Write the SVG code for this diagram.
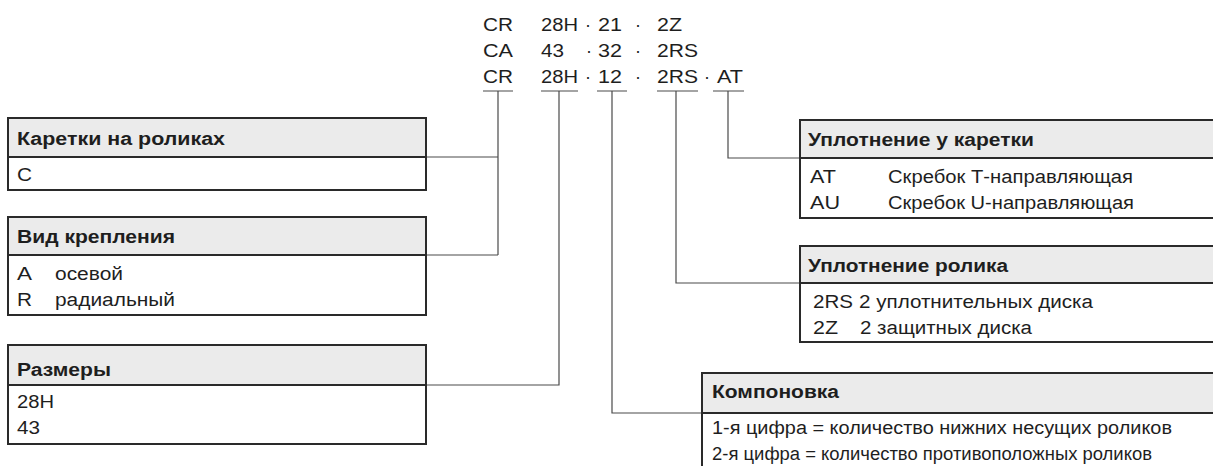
<svg xmlns="http://www.w3.org/2000/svg" width="1213" height="466" viewBox="0 0 1213 466">
<style>
text{font-family:"Liberation Sans",Arial,sans-serif;fill:#1e1e1e}
.code{font-size:18px}
.h{font-size:18px;font-weight:bold}
.b{font-size:18px}
.hd{fill:#ebebeb;stroke:#2a2a2a;stroke-width:2}
.bd{fill:#fff;stroke:#2a2a2a;stroke-width:2}
.c{fill:none;stroke:#4a4a4a;stroke-width:1.2}
</style>
<rect width="1213" height="466" fill="#fff"/>
<g id="code">
<text class="code" x="483" y="31" textLength="30" lengthAdjust="spacingAndGlyphs">CR</text>
<text class="code" x="541" y="31" textLength="37" lengthAdjust="spacingAndGlyphs">28H</text>
<text class="code" x="588" y="31" text-anchor="middle">·</text>
<text class="code" x="598" y="31" textLength="24" lengthAdjust="spacingAndGlyphs">21</text>
<text class="code" x="638" y="31" text-anchor="middle">·</text>
<text class="code" x="657" y="31" textLength="25" lengthAdjust="spacingAndGlyphs">2Z</text>
<text class="code" x="483" y="57" textLength="30" lengthAdjust="spacingAndGlyphs">CA</text>
<text class="code" x="541" y="57" textLength="23" lengthAdjust="spacingAndGlyphs">43</text>
<text class="code" x="589" y="57" text-anchor="middle">·</text>
<text class="code" x="598" y="57" textLength="24" lengthAdjust="spacingAndGlyphs">32</text>
<text class="code" x="638" y="57" text-anchor="middle">·</text>
<text class="code" x="657" y="57" textLength="41" lengthAdjust="spacingAndGlyphs">2RS</text>
<text class="code" x="483" y="83" textLength="30" lengthAdjust="spacingAndGlyphs">CR</text>
<text class="code" x="541" y="83" textLength="37" lengthAdjust="spacingAndGlyphs">28H</text>
<text class="code" x="588" y="83" text-anchor="middle">·</text>
<text class="code" x="598" y="83" textLength="24" lengthAdjust="spacingAndGlyphs">12</text>
<text class="code" x="638" y="83" text-anchor="middle">·</text>
<text class="code" x="657" y="83" textLength="41" lengthAdjust="spacingAndGlyphs">2RS</text>
<text class="code" x="707" y="83" text-anchor="middle">·</text>
<text class="code" x="717" y="83" textLength="26" lengthAdjust="spacingAndGlyphs">AT</text>
</g>
<g id="connectors">
<path class="c" d="M483 91H513M541 91H578M597 91H627M657 91H698M713 91H744"/>
<path class="c" d="M498 91V255M426 157H498M426 255H498"/>
<path class="c" d="M559 91V385H426"/>
<path class="c" d="M612 91V413H702"/>
<path class="c" d="M676 91V283H800"/>
<path class="c" d="M728 91V158H800"/>
</g>
<g id="box-carriage">
<rect class="hd" x="8" y="118" width="418" height="39"/>
<rect class="bd" x="8" y="157" width="418" height="33"/>
<text class="h" x="17" y="145" textLength="208" lengthAdjust="spacingAndGlyphs">Каретки на роликах</text>
<text class="b" x="17" y="181" textLength="15" lengthAdjust="spacingAndGlyphs">C</text>
</g>
<g id="box-mount">
<rect class="hd" x="8" y="217" width="418" height="38"/>
<rect class="bd" x="8" y="255" width="418" height="60"/>
<text class="h" x="17" y="243" textLength="158" lengthAdjust="spacingAndGlyphs">Вид крепления</text>
<text class="b" x="17" y="280" textLength="15" lengthAdjust="spacingAndGlyphs">A</text>
<text class="b" x="55" y="280" textLength="68" lengthAdjust="spacingAndGlyphs">осевой</text>
<text class="b" x="17" y="306" textLength="15" lengthAdjust="spacingAndGlyphs">R</text>
<text class="b" x="55" y="306" textLength="120" lengthAdjust="spacingAndGlyphs">радиальный</text>
</g>
<g id="box-size">
<rect class="hd" x="8" y="345" width="418" height="40"/>
<rect class="bd" x="8" y="385" width="418" height="59"/>
<text class="h" x="17" y="376" textLength="94" lengthAdjust="spacingAndGlyphs">Размеры</text>
<text class="b" x="17" y="408" textLength="37" lengthAdjust="spacingAndGlyphs">28H</text>
<text class="b" x="17" y="434" textLength="23" lengthAdjust="spacingAndGlyphs">43</text>
</g>
<g id="box-carriage-seal">
<rect class="hd" x="800" y="120" width="420" height="38"/>
<rect class="bd" x="800" y="158" width="420" height="60"/>
<text class="h" x="808" y="146" textLength="226" lengthAdjust="spacingAndGlyphs">Уплотнение у каретки</text>
<text class="b" x="810" y="183" textLength="26" lengthAdjust="spacingAndGlyphs">AT</text>
<text class="b" x="888" y="183" textLength="245" lengthAdjust="spacingAndGlyphs">Скребок Т-направляющая</text>
<text class="b" x="810" y="209" textLength="30" lengthAdjust="spacingAndGlyphs">AU</text>
<text class="b" x="888" y="209" textLength="246" lengthAdjust="spacingAndGlyphs">Скребок U-направляющая</text>
</g>
<g id="box-roller-seal">
<rect class="hd" x="800" y="246" width="420" height="37"/>
<rect class="bd" x="800" y="283" width="420" height="59"/>
<text class="h" x="808" y="272" textLength="200" lengthAdjust="spacingAndGlyphs">Уплотнение ролика</text>
<text class="b" x="813" y="308" textLength="40" lengthAdjust="spacingAndGlyphs">2RS</text>
<text class="b" x="859" y="308" textLength="234" lengthAdjust="spacingAndGlyphs">2 уплотнительных диска</text>
<text class="b" x="813" y="334" textLength="25" lengthAdjust="spacingAndGlyphs">2Z</text>
<text class="b" x="860" y="334" textLength="172" lengthAdjust="spacingAndGlyphs">2 защитных диска</text>
</g>
<g id="box-layout">
<rect class="hd" x="702" y="373" width="520" height="40"/>
<rect class="bd" x="702" y="413" width="520" height="60"/>
<text class="h" x="712" y="398" textLength="127" lengthAdjust="spacingAndGlyphs">Компоновка</text>
<text class="b" x="712" y="434" textLength="460" lengthAdjust="spacingAndGlyphs">1-я цифра = количество нижних несущих роликов</text>
<text class="b" x="712" y="460" textLength="440" lengthAdjust="spacingAndGlyphs">2-я цифра = количество противоположных роликов</text>
</g>
</svg>
